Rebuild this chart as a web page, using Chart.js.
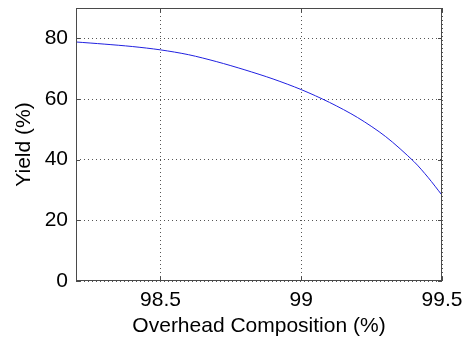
<!DOCTYPE html>
<html>
<head>
<meta charset="utf-8">
<script src="https://cdn.jsdelivr.net/npm/chart.js@4/dist/chart.umd.min.js"></script>
<style>
  html, body { margin: 0; padding: 0; background: #fff; }
  #wrap { width: 464px; height: 340px; }
</style>
</head>
<body>
<div id="wrap"><canvas id="yieldChart"></canvas></div>
<script>
// values
var composition = [98.2, 98.3, 98.4, 98.5, 98.6, 98.7, 98.8, 98.9, 99.0, 99.1, 99.2, 99.3, 99.4, 99.45, 99.5];
var yieldPct    = [78.8, 78.1, 77.3, 76.2, 74.6, 72.3, 69.6, 66.6, 63.1, 58.9, 53.9, 47.6, 39.4, 34.2, 28.3];
var xTicks = [98.5, 99, 99.5];
var yTicks = [0, 20, 40, 60, 80];

var FONT = 'Liberation Sans, Arial, sans-serif';

// box around the axes plus inward tick marks (matlab style)
var axesBox = {
    id: 'axesBox',
    afterDraw: function(chart) {
        var c = chart.ctx, a = chart.chartArea;
        var xs = chart.scales.x, ys = chart.scales.y;
        c.save();
        c.strokeStyle = '#4a4a4a';
        c.lineWidth = 1;
        c.strokeRect(a.left + 0.5, a.top + 0.5, a.right - a.left - 1, a.bottom - a.top - 1);
        c.beginPath();
        xTicks.forEach(function(v) {
            var px = Math.round(xs.getPixelForValue(v)) + 0.5;
            c.moveTo(px, a.bottom); c.lineTo(px, a.bottom - 4);
            c.moveTo(px, a.top); c.lineTo(px, a.top + 4);
        });
        yTicks.forEach(function(v) {
            var py = Math.round(ys.getPixelForValue(v)) + 0.5;
            c.moveTo(a.left, py); c.lineTo(a.left + 4, py);
            c.moveTo(a.right, py); c.lineTo(a.right - 4, py);
        });
        c.stroke();
        c.restore();
    }
};

function noPad(s) {
    s.paddingTop = 0; s.paddingBottom = 0; s.paddingLeft = 0; s.paddingRight = 0;
}

var ctx = document.getElementById('yieldChart').getContext('2d');
var yieldChart = new Chart(ctx, {
    type: 'line',
    data: {
        datasets: [{
            data: composition.map(function(x, i) { return { x: x, y: yieldPct[i] }; }),
            borderColor: '#2020e0',
            borderWidth: 1,
            pointRadius: 0,
            tension: 0.3,
            fill: false
        }]
    },
    options: {
        responsive: true,
        maintainAspectRatio: false,
        animation: false,
        layout: { padding: { top: 8, right: 22, bottom: 0, left: 0 } },
        plugins: { legend: { display: false }, tooltip: { enabled: false } },
        scales: {
            x: {
                type: 'linear',
                min: 98.2,
                max: 99.5,
                afterBuildTicks: function(s) { s.ticks = xTicks.map(function(v) { return { value: v }; }); },
                afterFit: function(s) { s.height = 59; noPad(s); },
                grid: { color: '#555', lineWidth: 1, drawTicks: false },
                border: { display: false, dash: [1, 3] },
                ticks: {
                    color: '#000', padding: 7, maxRotation: 0,
                    font: { family: FONT, size: 21 },
                    callback: function(v) { return String(v); }
                },
                title: {
                    display: true, text: 'Overhead Composition (%)', color: '#000',
                    font: { family: FONT, size: 21 }, padding: { top: 0, bottom: 1 }
                }
            },
            y: {
                min: 0,
                max: 90,
                afterBuildTicks: function(s) { s.ticks = yTicks.map(function(v) { return { value: v }; }); },
                afterFit: function(s) { s.width = 76; noPad(s); },
                grid: { color: '#555', lineWidth: 1, drawTicks: false },
                border: { display: false, dash: [1, 3] },
                ticks: {
                    color: '#000', padding: 8,
                    font: { family: FONT, size: 21 }
                },
                title: {
                    display: true, text: 'Yield (%)', color: '#000',
                    font: { family: FONT, size: 21 }, padding: { top: 12, bottom: 0 }
                }
            }
        }
    },
    plugins: [axesBox]
});
</script>
</body>
</html>
